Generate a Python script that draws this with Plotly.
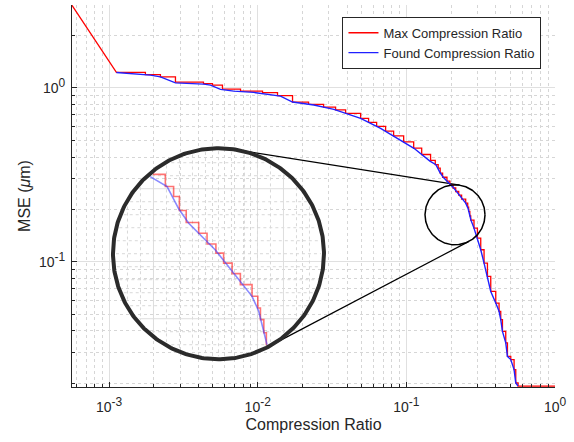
import numpy as np
import plotly.graph_objects as go

# ---------------- data ----------------
max_cr_x = [5.63e-4, 1.12e-3, 1.755e-3, 2.215e-3, 2.796e-3, 4.315e-3, 4.96e-3, 5.79e-3,
            7.66e-3, 1.077e-2, 1.359e-2, 1.715e-2, 2.198e-2, 2.773e-2, 3.341e-2, 3.902e-2,
            4.924e-2, 5.57e-2, 6.31e-2, 7.25e-2, 8.21e-2, 9.59e-2, 0.1120, 0.1268, 0.1455,
            0.1565, 0.1637, 0.1689, 0.1753, 0.1876, 0.1963, 0.2060, 0.2148, 0.2250, 0.2353,
            0.2507, 0.2587, 0.2624, 0.2673, 0.2710, 0.2851, 0.3006, 0.3165, 0.3332, 0.3512,
            0.3696, 0.3994, 0.4204, 0.4315, 0.4431, 0.4663, 0.4787, 0.5040, 0.5305, 0.5445,
            0.5643, 1.0]
max_cr_y = [2.98, 1.225, 1.190, 1.156, 1.078, 1.057, 1.036, 0.983, 0.957, 0.939, 0.902,
            0.828, 0.803, 0.774, 0.746, 0.713, 0.668, 0.633, 0.600, 0.563, 0.529, 0.489,
            0.450, 0.4137, 0.3827, 0.3616, 0.3453, 0.3236, 0.3061, 0.2911, 0.2769, 0.2655,
            0.2534, 0.2413, 0.2293, 0.2172, 0.2057, 0.1949, 0.1834, 0.1737, 0.1561, 0.1368,
            0.1172, 0.0983, 0.0824, 0.0675, 0.0579, 0.0519, 0.0465, 0.0398, 0.0342, 0.0286,
            0.0274, 0.0240, 0.0201, 0.0193, 0.0193]

found_cr_x = [1.12e-3, 1.897e-3, 2.215e-3, 2.796e-3, 4.335e-3, 4.81e-3, 5.62e-3, 6.90e-3,
              9.41e-3, 1.284e-2, 1.424e-2, 1.715e-2, 2.386e-2, 3.254e-2, 4.924e-2, 6.71e-2,
              9.15e-2, 0.1125, 0.1441, 0.1580, 0.1684, 0.1777, 0.2054, 0.2507, 0.2600,
              0.2718, 0.2851, 0.3006, 0.3165, 0.3332, 0.3512, 0.3696, 0.3994, 0.4204, 0.4315,
              0.4431, 0.4663, 0.4787, 0.5040, 0.5305, 0.5445, 0.5643]
found_cr_y = [1.225, 1.183, 1.156, 1.068, 1.050, 1.036, 0.979, 0.957, 0.941, 0.912, 0.896,
              0.828, 0.796, 0.752, 0.668, 0.585, 0.501, 0.449, 0.3787, 0.3616, 0.3258,
              0.3049, 0.2693, 0.2172, 0.2027, 0.1737, 0.1561, 0.1368, 0.1172, 0.0983, 0.0824,
              0.0675, 0.0579, 0.0519, 0.0465, 0.0398, 0.0342, 0.0286, 0.0274, 0.0240, 0.0201,
              0.0193]

series_names = ["Max Compression Ratio", "Found Compression Ratio"]
x_title = "Compression Ratio"
y_title = "MSE (<i>\u03bc</i>m)"
x_tick_vals = [1e-3, 1e-2, 1e-1, 1e0]
x_tick_exp = ["-3", "-2", "-1", "0"]
y_tick_vals = [1e-1, 1e0]
y_tick_exp = ["-1", "0"]

# magnifier (positions in data units)
zoom_src_center = (0.2089, 0.2647)     # region that is magnified
zoom_mark_center = (0.2125, 0.1861)    # small circle drawn on the curve
lens_center = (5.445e-3, 0.1112)       # big magnifying circle

# ---------------- layout geometry ----------------
W_FIG, H_FIG = 574, 442
M_L, M_R, M_T, M_B = 72, 19, 5, 55
PW = W_FIG - M_L - M_R
PH = H_FIG - M_T - M_B
xr = [float(np.log10(min(max_cr_x))), 0.0]
yr = [-1.72, 0.476]
kx = PW / (xr[1] - xr[0])
ky = PH / (yr[1] - yr[0])

LENS_R = 105.5      # px
MARK_R = 30.0       # px
MAG = 2.85
SUP_PX = 12


def pow_label(e):
    return f"10<sup><span style='font-size:{SUP_PX}px'>{e}</span></sup>"


def to_px(x, y):
    u = np.log10(np.asarray(x, float)); v = np.log10(np.asarray(y, float))
    return (u - xr[0]) * kx, (yr[1] - v) * ky


def to_data(px, py):
    px = np.asarray(px, float); py = np.asarray(py, float)
    return 10 ** (xr[0] + px / kx), 10 ** (yr[1] - py / ky)


# expanded step path for the max-ratio series (first segment straight)
rx, ry = [max_cr_x[0], max_cr_x[1]], [max_cr_y[0], max_cr_y[1]]
for i in range(2, len(max_cr_x)):
    rx += [max_cr_x[i], max_cr_x[i]]
    ry += [max_cr_y[i - 1], max_cr_y[i]]

lens_c = np.array(to_px(*lens_center))
src_c = np.array(to_px(*zoom_src_center))
mark_c = np.array(to_px(*zoom_mark_center))


def clip_to_circle(P, c, r):
    ox, oy = [], []
    last = None
    for p, q in zip(P[:-1], P[1:]):
        d = q - p
        f = p - c
        a = d @ d
        if a == 0:
            continue
        b = 2 * f @ d
        cc = f @ f - r * r
        disc = b * b - 4 * a * cc
        if disc <= 0:
            continue
        s = np.sqrt(disc)
        t1 = max((-b - s) / (2 * a), 0.0)
        t2 = min((-b + s) / (2 * a), 1.0)
        if t1 >= t2:
            continue
        A = p + t1 * d
        B = p + t2 * d
        if last is not None and np.hypot(*(A - last)) < 1e-6:
            ox.append(B[0]); oy.append(B[1])
        else:
            if ox:
                ox.append(None); oy.append(None)
            ox += [A[0], B[0]]; oy += [A[1], B[1]]
        last = B
    return ox, oy


def lens_trace_xy(xs, ys):
    px, py = to_px(xs, ys)
    P = np.column_stack([px, py])
    P = lens_c + (P - src_c) * MAG
    cx, cy = clip_to_circle(P, lens_c, LENS_R - 2.5)
    outx, outy = [], []
    for a, b in zip(cx, cy):
        if a is None:
            outx.append(None); outy.append(None)
        else:
            dx, dy = to_data(a, b)
            outx.append(float(dx)); outy.append(float(dy))
    return outx, outy


def circle_xy(c, r, n=361):
    t = np.linspace(0, 2 * np.pi, n)
    return to_data(c[0] + r * np.cos(t), c[1] + r * np.sin(t))


fig = go.Figure()

# lens grid (clipped inside the big circle)
step = 13.0
for k in range(-8, 9):
    solid = (abs(k) == 5)
    for orient in ("h", "v"):
        off = k * step
        if abs(off) >= LENS_R - 3:
            continue
        half = np.sqrt((LENS_R - 3) ** 2 - off ** 2)
        if orient == "h":
            P = np.array([[lens_c[0] - half, lens_c[1] + off], [lens_c[0] + half, lens_c[1] + off]])
        else:
            P = np.array([[lens_c[0] + off, lens_c[1] - half], [lens_c[0] + off, lens_c[1] + half]])
        gx, gy = to_data(P[:, 0], P[:, 1])
        fig.add_trace(go.Scatter(x=gx, y=gy, mode="lines", showlegend=False, hoverinfo="skip",
                                 line=dict(color="#dedede" if solid else "#d8d8d8", width=1,
                                           dash="solid" if solid else "dot")))

# magnified data
lx, ly = lens_trace_xy(rx, ry)
fig.add_trace(go.Scatter(x=lx, y=ly, mode="lines", showlegend=False, hoverinfo="skip",
                         line=dict(color="rgba(255,0,0,0.55)", width=1.6)))
lx, ly = lens_trace_xy(found_cr_x, found_cr_y)
fig.add_trace(go.Scatter(x=lx, y=ly, mode="lines", showlegend=False, hoverinfo="skip",
                         line=dict(color="rgba(60,60,255,0.6)", width=1.6)))

# tangent lines between circles
d = mark_c - lens_c
dist = np.hypot(*d)
ang = np.arctan2(d[1], d[0])
th = np.arccos((LENS_R - MARK_R) / dist)
for sgn in (-1, 1):
    n = np.array([np.cos(ang + sgn * th), np.sin(ang + sgn * th)])
    p1 = lens_c + LENS_R * n
    p2 = mark_c + MARK_R * n
    tx, ty = to_data([p1[0], p2[0]], [p1[1], p2[1]])
    fig.add_trace(go.Scatter(x=tx, y=ty, mode="lines", showlegend=False, hoverinfo="skip",
                             line=dict(color="black", width=1.2)))

# big lens circle
cx, cy = circle_xy(lens_c, LENS_R)
fig.add_trace(go.Scatter(x=cx, y=cy, mode="lines", showlegend=False, hoverinfo="skip",
                         line=dict(color="#2b2b2b", width=4)))

# main series
fig.add_trace(go.Scatter(x=rx, y=ry, mode="lines", name=series_names[0],
                         line=dict(color="#ff0000", width=1.3)))
fig.add_trace(go.Scatter(x=found_cr_x, y=found_cr_y, mode="lines", name=series_names[1],
                         line=dict(color="#2020ff", width=1.4)))

# small marker circle
cx, cy = circle_xy(mark_c, MARK_R)
fig.add_trace(go.Scatter(x=cx, y=cy, mode="lines", showlegend=False, hoverinfo="skip",
                         line=dict(color="black", width=1.5)))

font_main = "Liberation Sans, Arial, Helvetica, sans-serif"
axis_common = dict(
    type="log", showline=True, linecolor="#262626", linewidth=1, mirror=False,
    ticks="inside", ticklen=5, tickcolor="#262626", tickwidth=1,
    showgrid=True, gridcolor="#e0e0e0", gridwidth=1, zeroline=False,
    tickmode="array",
    tickfont=dict(family=font_main, size=14, color="#262626"),
    minor=dict(ticks="inside", ticklen=3, tickcolor="#262626", dtick="D1",
               showgrid=True, gridcolor="#d6d6d6", griddash="dot", gridwidth=1),
)

fig.update_layout(
    width=W_FIG, height=H_FIG,
    margin=dict(l=M_L, r=M_R, t=M_T, b=M_B),
    paper_bgcolor="white", plot_bgcolor="white",
    font=dict(family=font_main, color="#262626"),
    xaxis=dict(axis_common, range=xr, tickvals=x_tick_vals,
               ticktext=[pow_label(e) for e in x_tick_exp],
               ticklabelstandoff=7,
               title=dict(text=x_title, font=dict(size=16, color="#262626"), standoff=5)),
    yaxis=dict(axis_common, range=yr, tickvals=y_tick_vals,
               ticktext=[pow_label(e) for e in y_tick_exp],
               ticklabelstandoff=3,
               title=dict(text=y_title, font=dict(size=16, color="#262626"), standoff=4)),
    legend=dict(x=0.972, y=0.901, xanchor="right", yanchor="middle",
                bgcolor="white", bordercolor="#262626", borderwidth=1,
                font=dict(family=font_main, size=13, color="#262626"),
                tracegroupgap=0),
    showlegend=True,
)

fig.write_html("out.html")
